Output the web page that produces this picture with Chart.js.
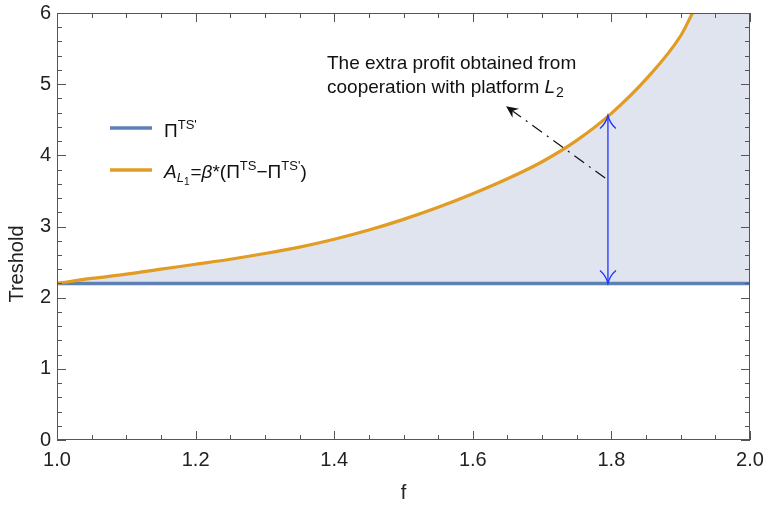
<!DOCTYPE html>
<html>
<head>
<meta charset="utf-8">
<script src="https://cdn.jsdelivr.net/npm/chart.js@4/dist/chart.umd.min.js"></script>
<style>
	html, body { margin: 0; padding: 0; background: #fff; }
	#wrap { width: 767px; height: 505px; }
</style>
</head>
<body>
<div id="wrap"><canvas id="chart" width="767" height="505"></canvas></div>
<script>
// values
var fValues = [1.00, 1.05, 1.10, 1.15, 1.20, 1.25, 1.30, 1.35, 1.40, 1.45, 1.50, 1.55, 1.60, 1.65, 1.70, 1.75, 1.80, 1.85, 1.90, 1.917];
var curveValues = [2.20, 2.27, 2.33, 2.40, 2.47, 2.54, 2.62, 2.71, 2.82, 2.95, 3.10, 3.27, 3.46, 3.67, 3.91, 4.21, 4.59, 5.07, 5.68, 6.00];
var baseF = [1.0, 2.0];
var baseValues = [2.2, 2.2];
var xTicks = [1.0, 1.2, 1.4, 1.6, 1.8, 2.0];
var yTicks = [0, 1, 2, 3, 4, 5, 6];

// annotations
var arrowF = 1.795, arrowLow = 2.2, arrowHigh = 4.56;
var pointerFrom = [1.791, 3.68], pointerTo = [1.648, 4.69];
var noteLines = ['The extra profit obtained from', 'cooperation with platform '];

var blue = '#5e81b5';
var orange = '#e19c24';
var fillCol = 'rgb(223,228,238)';
var font = '"Liberation Sans", Arial, sans-serif';

function toPoints(xs, ys){
	var pts = [];
	for(var i=0;i<xs.length;i++){
		pts.push({x: xs[i], y: ys[i]});
	}
	return pts;
}

var curvePts = toPoints(fValues, curveValues);
// area under the curve, cut at the top of the plot
var areaPts = curvePts.concat([{x: 2.0, y: 6.0}]);

function rich(ctx, x, y, parts){
	for(var i=0;i<parts.length;i++){
		var p = parts[i];
		ctx.font = (p.it ? 'italic ' : '') + p.size + 'px ' + font;
		ctx.fillText(p.t, x, y + (p.dy || 0));
		x += ctx.measureText(p.t).width + (p.gap || 0);
	}
	return x;
}

function openHead(ctx, x, y, dir){
	// curved open arrow head, dir = 1 tip up, -1 tip down
	ctx.beginPath();
	ctx.moveTo(x - 8, y + dir * 13);
	ctx.quadraticCurveTo(x - 2, y + dir * 8, x, y);
	ctx.quadraticCurveTo(x + 2, y + dir * 8, x + 8, y + dir * 13);
	ctx.stroke();
}

var decor = {
	id: 'decor',
	afterDraw: function(chart){
		var ctx = chart.ctx, a = chart.chartArea;
		var xs = chart.scales.x, ys = chart.scales.y;
		ctx.save();

		// frame with inward ticks
		ctx.strokeStyle = '#555';
		ctx.lineWidth = 1;
		ctx.beginPath();
		for(var i=0;i<=20;i++){
			var px = Math.round(xs.getPixelForValue(1 + i*0.05)) + 0.5;
			var len = (i % 4 == 0) ? 9 : 5;
			ctx.moveTo(px, a.bottom); ctx.lineTo(px, a.bottom - len);
			ctx.moveTo(px, a.top); ctx.lineTo(px, a.top + len);
		}
		for(var j=0;j<=30;j++){
			var py = Math.round(ys.getPixelForValue(j*0.2)) + 0.5;
			var l2 = (j % 5 == 0) ? 9 : 5;
			ctx.moveTo(a.left, py); ctx.lineTo(a.left + l2, py);
			ctx.moveTo(a.right, py); ctx.lineTo(a.right - l2, py);
		}
		ctx.stroke();
		ctx.strokeRect(Math.round(a.left) + 0.5, Math.round(a.top) + 0.5, Math.round(a.width) - 1, Math.round(a.height) - 1);

		// axis titles
		ctx.fillStyle = '#222';
		ctx.font = '20px ' + font;
		ctx.textAlign = 'center';
		ctx.textBaseline = 'middle';
		ctx.fillText('f', (a.left + a.right) / 2, 493);
		ctx.save();
		ctx.translate(17, 264);
		ctx.rotate(-Math.PI / 2);
		ctx.fillText('Treshold', 0, 0);
		ctx.restore();

		// double arrow
		var ax = xs.getPixelForValue(arrowF);
		var ay1 = ys.getPixelForValue(arrowHigh), ay2 = ys.getPixelForValue(arrowLow);
		ctx.strokeStyle = '#2233ff';
		ctx.lineWidth = 1.3;
		ctx.beginPath();
		ctx.moveTo(ax, ay1); ctx.lineTo(ax, ay2);
		ctx.stroke();
		openHead(ctx, ax, ay1, 1);
		openHead(ctx, ax, ay2, -1);

		// dash-dot pointer
		var p0x = xs.getPixelForValue(pointerFrom[0]), p0y = ys.getPixelForValue(pointerFrom[1]);
		var p1x = xs.getPixelForValue(pointerTo[0]), p1y = ys.getPixelForValue(pointerTo[1]);
		var ang = Math.atan2(p1y - p0y, p1x - p0x);
		ctx.strokeStyle = '#111';
		ctx.lineWidth = 1.2;
		ctx.setLineDash([12, 6, 2, 6]);
		ctx.beginPath();
		ctx.moveTo(p0x, p0y);
		ctx.lineTo(p1x - 8 * Math.cos(ang), p1y - 8 * Math.sin(ang));
		ctx.stroke();
		ctx.setLineDash([]);
		ctx.fillStyle = '#111';
		ctx.save();
		ctx.translate(p1x, p1y);
		ctx.rotate(ang);
		ctx.beginPath();
		ctx.moveTo(0, 0);
		ctx.lineTo(-12, -5.5);
		ctx.lineTo(-8, 0);
		ctx.lineTo(-12, 5.5);
		ctx.closePath();
		ctx.fill();
		ctx.restore();

		// note text
		ctx.fillStyle = '#111';
		ctx.textAlign = 'left';
		ctx.textBaseline = 'alphabetic';
		ctx.font = '19px ' + font;
		ctx.fillText(noteLines[0], 327, 69);
		var nx = rich(ctx, 327, 93, [{t: noteLines[1], size: 19}]);
		rich(ctx, nx, 93, [{t: 'L', size: 19, it: true, gap: 1}, {t: '2', size: 14, dy: 4}]);

		// legend
		ctx.lineWidth = 3.5;
		ctx.strokeStyle = blue;
		ctx.beginPath(); ctx.moveTo(110, 128); ctx.lineTo(152, 128); ctx.stroke();
		ctx.strokeStyle = orange;
		ctx.beginPath(); ctx.moveTo(110, 170); ctx.lineTo(152, 170); ctx.stroke();
		ctx.fillStyle = '#111';
		rich(ctx, 164, 137, [{t: '\u03A0', size: 19}, {t: 'TS\'', size: 13, dy: -8}]);
		rich(ctx, 164, 178, [
			{t: 'A', size: 19, it: true},
			{t: 'L', size: 13, it: true, dy: 4},
			{t: '1', size: 10, dy: 7, gap: 1},
			{t: '=', size: 19},
			{t: '\u03B2', size: 19, it: true},
			{t: '*(\u03A0', size: 19},
			{t: 'TS', size: 13, dy: -8},
			{t: '\u2212\u03A0', size: 19},
			{t: 'TS\'', size: 13, dy: -8},
			{t: ')', size: 19}
		]);
		ctx.restore();
	}
};

new Chart(document.getElementById('chart'), {
	type: 'line',
	data: {
		datasets: [{
			label: 'area',
			data: areaPts,
			borderWidth: 0,
			pointRadius: 0,
			backgroundColor: fillCol,
			fill: {value: baseValues[0]},
			order: 3
		}, {
			label: "\u03A0TS'",
			data: toPoints(baseF, baseValues),
			borderColor: blue,
			borderWidth: 3.5,
			pointRadius: 0,
			fill: false,
			order: 2
		}, {
			label: 'A_L1',
			data: curvePts,
			borderColor: orange,
			borderWidth: 3.2,
			pointRadius: 0,
			cubicInterpolationMode: 'monotone',
			fill: false,
			order: 1
		}]
	},
	options: {
		responsive: false,
		animation: false,
		events: [],
		layout: {padding: {top: 13, right: 17, left: 0, bottom: 0}},
		plugins: {legend: {display: false}, tooltip: {enabled: false}},
		scales: {
			x: {
				type: 'linear', min: 1, max: 2,
				afterFit: function(s){ s.height = 65; s.paddingLeft = 0; s.paddingRight = 0; },
				afterBuildTicks: function(s){ s.ticks = xTicks.map(function(v){ return {value: v}; }); },
				grid: {display: false, drawTicks: false},
				border: {display: false},
				ticks: {
					padding: 8, color: '#222', maxRotation: 0,
					font: {family: font, size: 20},
					callback: function(v){ return v.toFixed(1); }
				}
			},
			y: {
				type: 'linear', min: 0, max: 6,
				afterFit: function(s){ s.width = 57; s.paddingTop = 0; s.paddingBottom = 0; },
				afterBuildTicks: function(s){ s.ticks = yTicks.map(function(v){ return {value: v}; }); },
				grid: {display: false, drawTicks: false},
				border: {display: false},
				ticks: {
					padding: 6, color: '#222',
					font: {family: font, size: 20},
					callback: function(v){ return String(v); }
				}
			}
		}
	},
	plugins: [decor]
});
</script>
</body>
</html>
